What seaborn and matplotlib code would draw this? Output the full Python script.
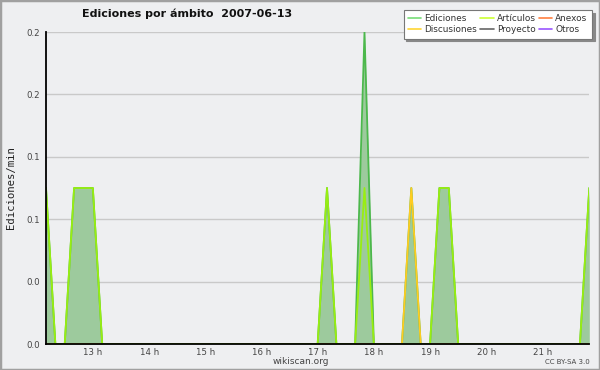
import matplotlib
matplotlib.use("Agg")
import matplotlib.pyplot as plt
import numpy as np
import pandas as pd
import seaborn as sns
from matplotlib.lines import Line2D
from matplotlib.patches import Rectangle
from matplotlib.ticker import MultipleLocator

# ---------------- data (10-minute bins starting 12:20) ----------------
title = "Ediciones por ámbito  2007-06-13"
start_time = "2007-06-13 12:20"

ediciones = [
    0.1, 0, 0, 0.1, 0.1, 0.1, 0, 0, 0, 0,
    0, 0, 0, 0, 0, 0, 0, 0, 0, 0,
    0, 0, 0, 0, 0, 0, 0, 0, 0, 0,
    0.1, 0, 0, 0, 0.2, 0, 0, 0, 0, 0.1,
    0, 0, 0.1, 0.1, 0, 0, 0, 0, 0, 0,
    0, 0, 0, 0, 0, 0, 0, 0, 0.1,
]
articulos = [
    0.1, 0, 0, 0.1, 0.1, 0.1, 0, 0, 0, 0,
    0, 0, 0, 0, 0, 0, 0, 0, 0, 0,
    0, 0, 0, 0, 0, 0, 0, 0, 0, 0,
    0.1, 0, 0, 0, 0.1, 0, 0, 0, 0, 0,
    0, 0, 0.1, 0.1, 0, 0, 0, 0, 0, 0,
    0, 0, 0, 0, 0, 0, 0, 0, 0.1,
]
discusiones = [
    0, 0, 0, 0, 0, 0, 0, 0, 0, 0,
    0, 0, 0, 0, 0, 0, 0, 0, 0, 0,
    0, 0, 0, 0, 0, 0, 0, 0, 0, 0,
    0, 0, 0, 0, 0, 0, 0, 0, 0, 0.1,
    0, 0, 0, 0, 0, 0, 0, 0, 0, 0,
    0, 0, 0, 0, 0, 0, 0, 0, 0,
]
anexos = [
    0, 0, 0, 0, 0, 0, 0, 0, 0, 0,
    0, 0, 0, 0, 0, 0, 0, 0, 0, 0,
    0, 0, 0, 0, 0, 0, 0, 0, 0, 0,
    0, 0, 0, 0, 0, 0, 0, 0, 0, 0,
    0, 0, 0, 0, 0, 0, 0, 0, 0, 0,
    0, 0, 0, 0, 0, 0, 0, 0, 0,
]
proyecto = list(anexos)
otros = list(anexos)

series_names = ["Ediciones", "Discusiones", "Artículos", "Proyecto", "Anexos", "Otros"]
hour_ticks = [13, 14, 15, 16, 17, 18, 19, 20, 21]
hour_labels = ["13 h", "14 h", "15 h", "16 h", "17 h", "18 h", "19 h", "20 h", "21 h"]
y_ticks = [0.0, 0.04, 0.08, 0.12, 0.16, 0.2]
y_tick_labels = ["0.0", "0.0", "0.1", "0.1", "0.2", "0.2"]

colors = {
    "Ediciones": "#4cb84c",
    "Artículos": "#99ee11",
    "Anexos": "#ff7f40",
    "Discusiones": "#ffcc22",
    "Proyecto": "#666666",
    "Otros": "#9955ff",
}
legend_colors = {
    "Ediciones": "#77dd77",
    "Artículos": "#ccff33",
    "Anexos": "#ff7f40",
    "Discusiones": "#ffd633",
    "Proyecto": "#666666",
    "Otros": "#9955ff",
}
fill_color = "#9dca9d"
bg = "#eeeff1"

# ---------------- build frame ----------------
times = pd.date_range(start_time, periods=len(ediciones), freq="10min")
hours = times.hour + times.minute / 60.0
values = {
    "Ediciones": ediciones, "Artículos": articulos, "Anexos": anexos,
    "Discusiones": discusiones, "Proyecto": proyecto, "Otros": otros,
}
df = pd.concat(
    [pd.DataFrame({"hora": hours, "valor": v, "serie": k}) for k, v in values.items()],
    ignore_index=True,
)

sns.set_theme(style="white")
plt.rcParams["font.family"] = ["DejaVu Sans"]

fig = plt.figure(figsize=(6, 3.7), dpi=100)
fig.patch.set_facecolor(bg)
ax = fig.add_axes([46 / 600, 1 - 344 / 370, (589.3 - 46) / 600, (344 - 32) / 370])
ax.set_facecolor(bg)

ax.fill_between(hours, 0, ediciones, color=fill_color, linewidth=0, zorder=1)

draw_order = ["Otros", "Proyecto", "Anexos", "Ediciones", "Discusiones", "Artículos"]
sns.lineplot(
    data=df, x="hora", y="valor", hue="serie", hue_order=draw_order,
    palette=colors, linewidth=1.3, ax=ax, legend=False, zorder=2,
    estimator=None, sort=True,
)

ax.set_xlim(hours[0], hours[-1])
ax.set_ylim(0, 0.2)

ax.set_xticks(hour_ticks)
ax.set_xticklabels(hour_labels, ha="left")
ax.xaxis.set_minor_locator(MultipleLocator(1 / 6))
ax.set_yticks(y_ticks)
ax.set_yticklabels(y_tick_labels)
ax.yaxis.set_minor_locator(MultipleLocator(0.008))

ax.tick_params(axis="both", which="both", direction="out", length=2.9, width=1,
               color="black", labelsize=6.2, labelcolor="#444444")
ax.tick_params(axis="x", which="major", pad=-0.2)
ax.tick_params(axis="y", which="major", pad=1.5)

ax.yaxis.grid(True, which="major", color="#c9c9c9", linewidth=1)
ax.xaxis.grid(False)
ax.set_axisbelow(True)

for s in ["top", "right"]:
    ax.spines[s].set_visible(False)
for s in ["left", "bottom"]:
    ax.spines[s].set_color("black")
    ax.spines[s].set_linewidth(1.3)

ax.set_xlabel("")
ax.set_ylabel("Ediciones/min", fontfamily="DejaVu Sans Mono", fontsize=7.7, color="#222222")
ax.yaxis.set_label_coords(-0.056, 0.5)

fig.suptitle(title, x=187.5 / 600, y=1 - 14 / 370, va="center", ha="center",
             fontsize=8, fontweight="bold", color="#111111")

handles = [Line2D([0], [0], color=legend_colors[n], linewidth=1.2) for n in series_names]
leg = fig.legend(handles, series_names, ncol=3, loc="upper right",
                 bbox_to_anchor=(592 / 600, 1 - 10 / 370), frameon=True, fancybox=False,
                 shadow={"color": "#888888", "alpha": 1}, fontsize=6.4, handlelength=1.5,
                 columnspacing=0.35, handletextpad=0.35, labelspacing=0.2,
                 borderpad=0.5, borderaxespad=0)
leg.get_frame().set_edgecolor("#777777")
leg.get_frame().set_facecolor("white")
leg.get_frame().set_linewidth(0.8)
for t in leg.get_texts():
    t.set_color("#333333")

fig.text(301 / 600, 1 - 361 / 370, "wikiscan.org", ha="center", va="center",
         fontsize=6.5, color="#444444")
fig.text(590 / 600, 1 - 362 / 370, "CC BY-SA 3.0", ha="right", va="center",
         fontsize=5, color="#444444")

fig.add_artist(Rectangle((0, 0), 1, 1, transform=fig.transFigure, fill=False,
                         edgecolor="#a0a0a0", linewidth=2.5))

fig.savefig("out.png", dpi=100, facecolor=bg)
